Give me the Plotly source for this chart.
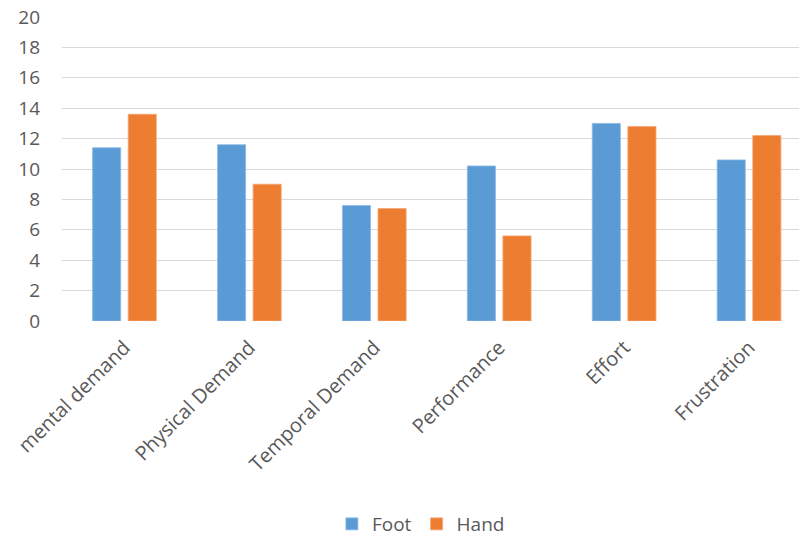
import plotly.graph_objects as go

categories = ["mental demand", "Physical Demand", "Temporal Demand",
              "Performance", "Effort", "Frustration"]
foot = [11.4, 11.6, 7.6, 10.2, 13.0, 10.6]
hand = [13.6, 9.0, 7.4, 5.6, 12.8, 12.2]
y_ticks = list(range(0, 21, 2))

FONT = "Open Sans"
TEXT = "#595959"

fig = go.Figure()
fig.add_trace(go.Bar(name="Foot", x=categories, y=foot,
                     marker=dict(color="#5B9BD5",
                                 line=dict(color="#8DBBE6", width=0.8))))
fig.add_trace(go.Bar(name="Hand", x=categories, y=hand,
                     marker=dict(color="#ED7D31",
                                 line=dict(color="#F4A774", width=0.8))))

fig.update_layout(
    width=799, height=538,
    margin=dict(l=61.5, r=0, t=16.7, b=216.5, autoexpand=False),
    plot_bgcolor="white", paper_bgcolor="white",
    barmode="group", bargap=0.43, bargroupgap=0.21,
    font=dict(family=FONT, size=19, color=TEXT),
    legend=dict(orientation="h", x=0.487, xanchor="center",
                yref="container", y=0.026, yanchor="middle",
                font=dict(family=FONT, size=19, color=TEXT),
                itemwidth=30, tracegroupgap=0),
    xaxis=dict(range=[-0.5, 5.4], tickangle=-45, showgrid=False,
               showline=False, zeroline=False, ticks="",
               ticklabelstandoff=10,
               tickfont=dict(family=FONT, size=20, color=TEXT)),
    yaxis=dict(range=[0, 20], tickvals=y_ticks, showgrid=True,
               gridcolor="#D9D9D9", gridwidth=1.3, zeroline=False,
               showline=False, ticks="", ticklabelstandoff=21,
               tickfont=dict(family=FONT, size=19, color=TEXT)),
)

fig.write_html("out.html")
